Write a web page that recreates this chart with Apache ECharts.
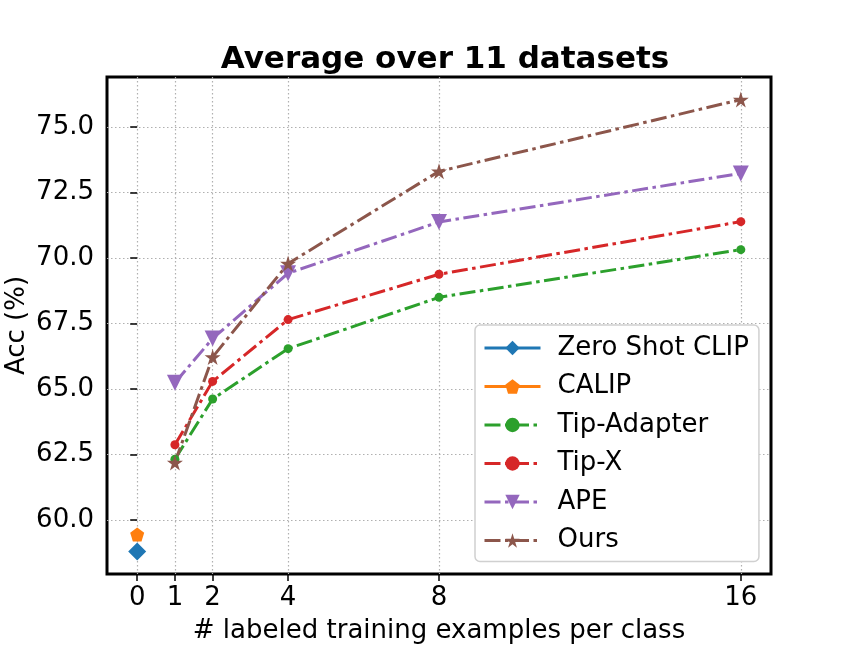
<!DOCTYPE html>
<html>
<head>
<meta charset="utf-8">
<script src="https://cdn.jsdelivr.net/npm/echarts@6/dist/echarts.min.js"></script>
<style>html,body{margin:0;padding:0;background:#fff;}#c{width:860px;height:645px;}</style>
</head>
<body>
<div id="c"></div>
<script>
const shots = [1, 2, 4, 8, 16];
const zeroShotClip = 58.8;   // at 0 shots
const calip = 59.45;         // at 0 shots
const tipAdapter = [62.32, 64.62, 66.54, 68.50, 70.32];
const tipX = [62.87, 65.29, 67.65, 69.38, 71.39];
const ape = [65.24, 66.93, 69.42, 71.38, 73.23];
const ours = [62.19, 66.22, 69.79, 73.31, 76.05];
const xTicks = [0, 1, 2, 4, 8, 16];
const yTicks = [60.0, 62.5, 65.0, 67.5, 70.0, 72.5, 75.0];

const FONT = 'DejaVu Sans';
const FS = 26;
const LW = 3;
const dashDot = [16, 4.5, 3.5, 4.5];
const pentagon = 'path://M0,-1 L0.951,-0.309 L0.588,0.809 L-0.588,0.809 L-0.951,-0.309 Z';
function starPath() {
  const pts = [];
  for (let i = 0; i < 10; i++) {
    const r = i % 2 === 0 ? 1 : 0.382;
    const a = -Math.PI / 2 + i * Math.PI / 5;
    pts.push((r * Math.cos(a)).toFixed(3) + ',' + (r * Math.sin(a)).toFixed(3));
  }
  return 'path://M' + pts.join(' L') + ' Z';
}
const star = starPath();

const allY = [zeroShotClip, calip].concat(tipAdapter, tipX, ape, ours);
const yMinD = Math.min(...allY), yMaxD = Math.max(...allY);
const yPad = (yMaxD - yMinD) * 0.05;
const xPad = (xTicks[xTicks.length - 1] - xTicks[0]) * 0.05;

const pair = (vals) => shots.map((s, i) => [s, vals[i]]);

const chart = echarts.init(document.getElementById('c'), null, { renderer: 'canvas' });
const option = {
  animation: false,
  backgroundColor: '#fff',
  title: {
    text: 'Average over 11 datasets',
    left: 440, top: 39, textAlign: 'center',
    textStyle: { fontFamily: FONT, fontWeight: 'bold', fontSize: 31, color: '#000' }
  },
  grid: {
    left: 107, right: 89, top: 77, bottom: 71,
    outerBoundsMode: 'none', containLabel: false,
    show: true, borderColor: '#000', borderWidth: 3, backgroundColor: 'transparent'
  },
  legend: {
    orient: 'vertical',
    left: 475, top: 325,
    itemWidth: 56, itemHeight: 18, itemGap: 12.5,
    padding: [10, 10, 8, 8],
    backgroundColor: '#fff',
    borderColor: '#d0d0d0', borderWidth: 1.5, borderRadius: 5,
    lineStyle: { width: LW },
    textStyle: { fontFamily: FONT, fontSize: FS, color: '#000', padding: [0, 0, 0, 12] },
    data: ['Zero Shot CLIP', 'CALIP', 'Tip-Adapter', 'Tip-X', 'APE', 'Ours']
  },
  xAxis: {
    type: 'value',
    min: xTicks[0] - xPad, max: xTicks[xTicks.length - 1] + xPad,
    name: '# labeled training examples per class',
    nameLocation: 'middle', nameGap: 44, nameMoveOverlap: false,
    nameTextStyle: { fontFamily: FONT, fontSize: FS, color: '#000' },
    axisLine: { show: false },
    axisTick: { show: true, customValues: xTicks, length: 7, lineStyle: { color: '#000', width: 1.5 } },
    axisLabel: { customValues: xTicks, fontFamily: FONT, fontSize: FS, color: '#000', margin: 11 },
    splitLine: { show: true, lineStyle: { color: '#b0b0b0', width: 1.2, type: [1.5, 2.5] } }
  },
  yAxis: {
    type: 'value',
    min: yMinD - yPad, max: yMaxD + yPad,
    name: 'Acc (%)',
    nameLocation: 'middle', nameGap: 77, nameMoveOverlap: false,
    nameTextStyle: { fontFamily: FONT, fontSize: FS, color: '#000' },
    axisLine: { show: false },
    axisTick: { show: true, customValues: yTicks, length: 7, lineStyle: { color: '#000', width: 1.5 } },
    axisLabel: { customValues: yTicks, fontFamily: FONT, fontSize: FS, color: '#000', margin: 13,
      formatter: (v) => Number(v).toFixed(1) },
    splitLine: { show: true, lineStyle: { color: '#b0b0b0', width: 1.2, type: [1.5, 2.5] } }
  },
  series: [
    { name: 'Zero Shot CLIP', type: 'line', data: [[0, zeroShotClip]], color: '#1f77b4',
      symbol: 'diamond', symbolSize: 18, lineStyle: { width: LW }, itemStyle: { color: '#1f77b4' } },
    { name: 'CALIP', type: 'line', data: [[0, calip]], color: '#ff7f0e',
      symbol: pentagon, symbolSize: 14, lineStyle: { width: LW }, itemStyle: { color: '#ff7f0e' } },
    { name: 'Tip-Adapter', type: 'line', data: pair(tipAdapter), color: '#2ca02c',
      symbol: 'circle', symbolSize: 9, lineStyle: { width: LW, type: dashDot }, itemStyle: { color: '#2ca02c' } },
    { name: 'Tip-X', type: 'line', data: pair(tipX), color: '#d62728',
      symbol: 'circle', symbolSize: 9, lineStyle: { width: LW, type: dashDot }, itemStyle: { color: '#d62728' } },
    { name: 'APE', type: 'line', data: pair(ape), color: '#9467bd',
      symbol: 'triangle', symbolRotate: 180, symbolSize: 16, lineStyle: { width: LW, type: dashDot }, itemStyle: { color: '#9467bd' } },
    { name: 'Ours', type: 'line', data: pair(ours), color: '#8c564b',
      symbol: star, symbolSize: 16, lineStyle: { width: LW, type: dashDot }, itemStyle: { color: '#8c564b' } }
  ]
};
chart.setOption(option);
</script>
</body>
</html>
